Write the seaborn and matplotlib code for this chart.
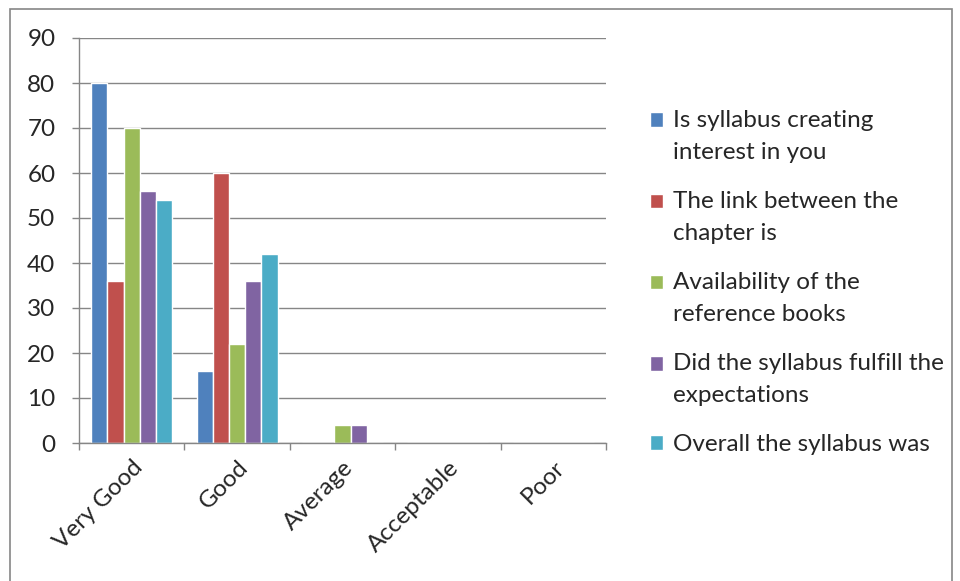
import matplotlib
matplotlib.use("Agg")
import matplotlib.pyplot as plt
from matplotlib.patches import Rectangle
import numpy as np
import pandas as pd
import seaborn as sns

categories = ["Very Good", "Good", "Average", "Acceptable", "Poor"]
series_names = [
    "Is syllabus creating\ninterest in you",
    "The link between the\nchapter is",
    "Availability of the\nreference books",
    "Did the syllabus fulfill the\nexpectations",
    "Overall the syllabus was",
]
interest = [80, 16, 0, 0, 0]
link = [36, 60, 0, 0, 0]
books = [70, 22, 4, 0, 0]
expectations = [56, 36, 4, 0, 0]
overall = [54, 42, 0, 0, 0]
colors = ["#4F81BD", "#C0504D", "#9BBB59", "#8064A2", "#4BACC6"]

rows = []
for name, vals in zip(series_names, [interest, link, books, expectations, overall]):
    for cat, v in zip(categories, vals):
        rows.append({"category": cat, "series": name, "value": v})
df = pd.DataFrame(rows)

sns.set_style("white")
plt.rcParams["font.family"] = ["Lato", "DejaVu Sans"]

fs = 17.5
grey = "#868686"
fig = plt.figure(figsize=(9.6, 5.81), dpi=100)
ax = fig.add_axes([79 / 960, 1 - 443 / 581, (606 - 79) / 960, (443 - 38) / 581])

sns.barplot(data=df, x="category", y="value", hue="series", palette=colors,
            width=0.77, saturation=1, ax=ax, errorbar=None, legend=True)

ax.set_ylim(0, 90)
ax.set_xlim(-0.5, len(categories) - 0.5)
ax.set_yticks(np.arange(0, 91, 10))
ax.yaxis.grid(True, color=grey, linewidth=1)
ax.set_axisbelow(True)
ax.set_xlabel("")
ax.set_ylabel("")

for s in ["top", "right"]:
    ax.spines[s].set_visible(False)
for s in ["left", "bottom"]:
    ax.spines[s].set_color(grey)
    ax.spines[s].set_linewidth(1)

ax.tick_params(axis="y", length=5, color=grey, width=1, labelsize=fs, pad=12, direction="out", left=True)
ax.set_xticks(np.arange(-0.5, len(categories)), minor=True)
ax.tick_params(axis="x", which="minor", length=5, color=grey, width=1, direction="out", bottom=True)
ax.tick_params(axis="x", which="major", length=0, labelsize=fs, pad=10)
for lab in ax.get_xticklabels():
    lab.set_rotation(45)
    lab.set_ha("right")
    lab.set_rotation_mode("anchor")

handles, labels = ax.get_legend_handles_labels()
ax.legend_.remove()
leg = fig.legend(handles, labels, loc="upper left", bbox_to_anchor=(640 / 960, 1 - 100 / 581),
                 frameon=False, fontsize=fs, handlelength=0.55, handleheight=0.55,
                 handletextpad=0.4, labelspacing=1.15, borderaxespad=0)

# wider line spacing, square next to the first line of a wrapped label
for patch, text in zip(leg.get_patches(), leg.get_texts()):
    text.set_linespacing(1.66)
    nlines = text.get_text().count("\n")
    patch.set_y(patch.get_y() + 0.68 * fs * nlines)

fig.patches.append(Rectangle((10 / 960, -0.1), (952 - 10) / 960, 1.1 - 9 / 581,
                             transform=fig.transFigure, fill=False, edgecolor=grey, linewidth=1.2))

fig.savefig("out.png", dpi=100)
